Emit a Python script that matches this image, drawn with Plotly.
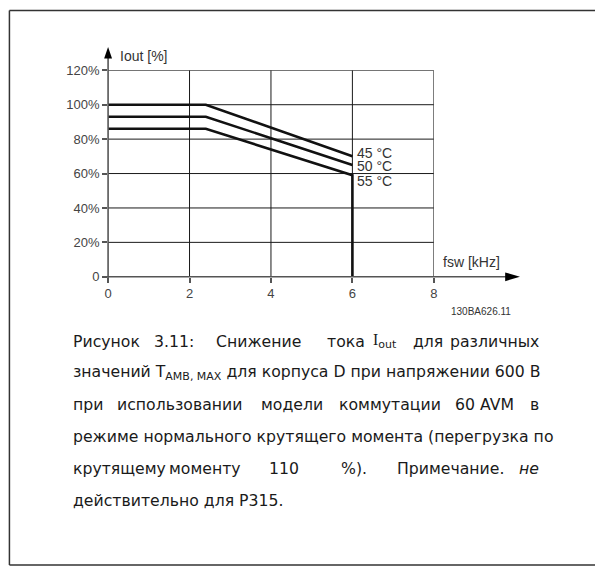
import plotly.graph_objects as go

# ---- data ----
fsw_khz = [0, 2.4, 6]
iout_45 = [100, 100, 70]
iout_50 = [93, 93, 65]
iout_55 = [86, 86, 59]
curve_labels = ["45 °C", "50 °C", "55 °C"]
label_y = [72, 64.5, 55.5]
x_ticks = [0, 2, 4, 6, 8]
y_ticks = [0, 20, 40, 60, 80, 100, 120]
y_ticktext = ["0", "20%", "40%", "60%", "80%", "100%", "120%"]

W, H = 595, 575
def px(x):
    return x / W
def py(y):
    return 1 - y / H

AX = "#555555"
TXT = "#444444"
CHART_FONT = "Liberation Sans, Arial, sans-serif"
CAP_FONT = "DejaVu Sans, sans-serif"
CAP_SIZE = 15.7

fig = go.Figure()

series = [iout_45, iout_50, iout_55]
for i, s in enumerate(series):
    xs = list(fsw_khz)
    ys = list(s)
    if i == 2:
        xs = xs + [fsw_khz[-1]]
        ys = ys + [0]
    fig.add_trace(go.Scatter(x=xs, y=ys, mode="lines",
                             line=dict(color="#111111", width=2.6),
                             showlegend=False, hoverinfo="skip"))

shapes = []
# grid
for xv in x_ticks[1:]:
    shapes.append(dict(type="line", xref="x", yref="y", x0=xv, x1=xv, y0=0, y1=120,
                       line=dict(color="#1a1a1a", width=1), layer="below"))
for yv in y_ticks[1:]:
    shapes.append(dict(type="line", xref="x", yref="y", x0=0, x1=8, y0=yv, y1=yv,
                       line=dict(color="#1a1a1a", width=1), layer="below"))
# axis lines (with arrows)
x0p, y0p = 105.5, 277
shapes.append(dict(type="line", xref="paper", yref="paper", x0=px(100), x1=px(510),
                   y0=py(y0p), y1=py(y0p), line=dict(color=AX, width=1.6)))
shapes.append(dict(type="line", xref="paper", yref="paper", x0=px(x0p), x1=px(x0p),
                   y0=py(281), y1=py(50), line=dict(color=AX, width=1.6)))
shapes.append(dict(type="path", xref="paper", yref="paper",
                   path=f"M {px(523)} {py(277)} L {px(508)} {py(272.5)} L {px(508)} {py(281.5)} Z",
                   fillcolor="#000000", line=dict(width=0)))
shapes.append(dict(type="path", xref="paper", yref="paper",
                   path=f"M {px(105.5)} {py(41)} L {px(101.5)} {py(53)} L {px(109.5)} {py(53)} Z",
                   fillcolor="#000000", line=dict(width=0)))
# outer frame
shapes.append(dict(type="line", xref="paper", yref="paper", x0=px(5.5), x1=px(600),
                   y0=py(3.5), y1=py(3.5), line=dict(color="#333333", width=1.5)))
shapes.append(dict(type="line", xref="paper", yref="paper", x0=px(5.5), x1=px(5.5),
                   y0=py(3.5), y1=py(573), line=dict(color="#333333", width=1.5)))
shapes.append(dict(type="line", xref="paper", yref="paper", x0=px(5.5), x1=px(600),
                   y0=py(573), y1=py(573), line=dict(color="#333333", width=1.5)))

annotations = []
for lab, yv in zip(curve_labels, label_y):
    annotations.append(dict(x=6.1, y=yv, xref="x", yref="y", text=lab, showarrow=False,
                            xanchor="left", yanchor="middle", borderpad=0,
                            font=dict(family=CHART_FONT, size=14, color="#333333")))
annotations.append(dict(x=px(116), y=py(50), xref="paper", yref="paper", text="Iout [%]",
                        showarrow=False, xanchor="left", yanchor="middle",
                        font=dict(family=CHART_FONT, size=14, color="#333333")))
annotations.append(dict(x=px(443), y=py(261.5), xref="paper", yref="paper", text="fsw [kHz]",
                        showarrow=False, xanchor="left", yanchor="middle",
                        font=dict(family=CHART_FONT, size=14, color="#333333")))
annotations.append(dict(x=px(451), y=py(313), xref="paper", yref="paper", text="130BA626.11",
                        showarrow=False, xanchor="left", yanchor="middle",
                        font=dict(family=CHART_FONT, size=10, color="#333333")))

# caption: justified lines laid out word by word, others as whole lines
RIGHT = 544
caption_lines = [
    [(68, "Рисунок"), (150, "3.11:"), (212.5, "Снижение"), (325, "тока"),
     (371.5, "<span style='font-family:Liberation Serif'>I</span><sub>out</sub>"),
     (413, "для"), (RIGHT, "различных")],
    [(68, "значений T<sub>AMB, MAX</sub> для корпуса D при напряжении 600 В")],
    [(68, "при"), (113, "использовании"), (258, "модели"), (338, "коммутации"),
     (455, "60"), (480, "AVM"), (RIGHT, "в")],
    [(68, "режиме нормального крутящего момента (перегрузка по")],
    [(68, "крутящему"), (165, "моменту"), (266.5, "110"), (340, "%)."),
     (396, "Примечание."), (RIGHT, "<i>не</i>")],
    [(68, "действительно для P315.")],
]
centers = [343, 375.8, 408.6, 441.4, 474.2, 507]
for cy, words in zip(centers, caption_lines):
    for j, (xw, w) in enumerate(words):
        anchor = "right" if (xw == RIGHT and len(words) > 1) else "left"
        annotations.append(dict(x=px(xw), y=py(cy), xref="paper", yref="paper", text=w,
                                showarrow=False, xanchor=anchor, yanchor="middle",
                                font=dict(family=CAP_FONT, size=CAP_SIZE, color="#1a1a1a")))

fig.update_layout(
    width=W, height=H, autosize=False,
    margin=dict(l=0, r=0, t=0, b=0),
    paper_bgcolor="white", plot_bgcolor="white",
    showlegend=False,
    shapes=shapes, annotations=annotations,
    xaxis=dict(domain=[px(105.5), px(435.7)], range=[0, 8], tickvals=x_ticks,
               ticks="outside", ticklen=5, tickcolor=AX, tickwidth=1.5,
               showgrid=False, zeroline=False, showline=False,
               tickfont=dict(family=CHART_FONT, size=13, color=TXT)),
    yaxis=dict(domain=[py(277), py(65)], range=[0, 120], tickvals=y_ticks,
               ticktext=y_ticktext, ticks="outside", ticklen=5, tickcolor=AX, tickwidth=1.5,
               showgrid=False, zeroline=False, showline=False,
               tickfont=dict(family=CHART_FONT, size=13, color=TXT)),
)

fig.write_html("out.html", config={"displayModeBar": False},
               post_script="document.body.style.margin='0px';document.body.style.overflow='hidden';")
